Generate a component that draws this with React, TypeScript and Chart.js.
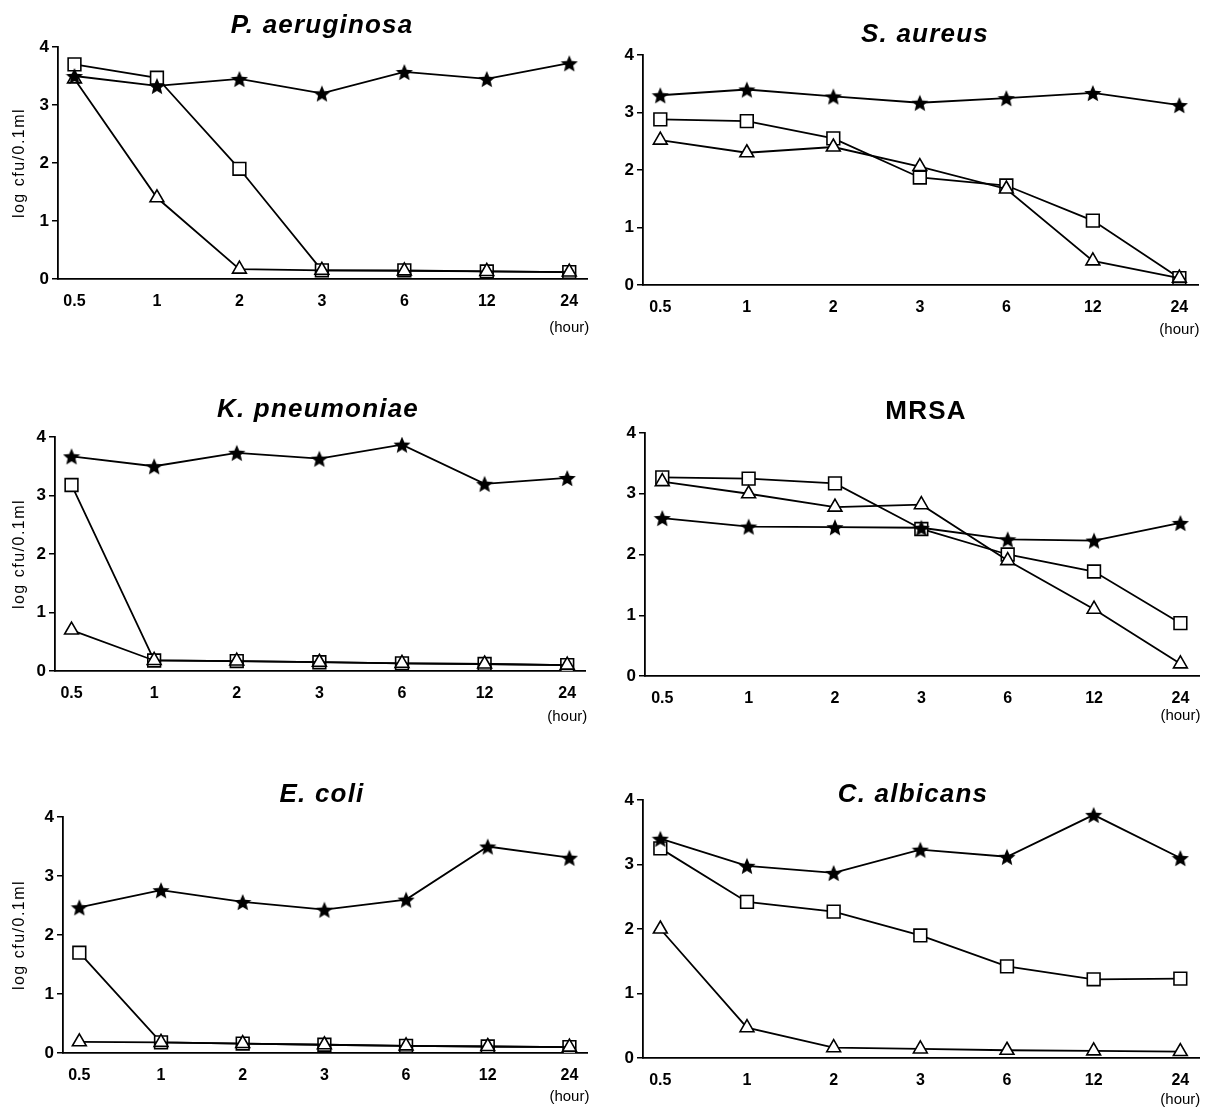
import React, { useEffect, useRef } from "react";
import { Chart, registerables } from "chart.js";
Chart.register(...registerables);

// ---- data ----
const hours = ["0.5", "1", "2", "3", "6", "12", "24"];
const yTicks = [0, 1, 2, 3, 4];

const paerStar = [3.5, 3.33, 3.45, 3.2, 3.57, 3.45, 3.72];
const paerSquare = [3.7, 3.47, 1.9, 0.15, 0.15, 0.13, 0.12];
const paerTri = [3.45, 1.4, 0.17, 0.15, 0.14, 0.13, 0.12];

const saurStar = [3.3, 3.4, 3.28, 3.17, 3.25, 3.34, 3.13];
const saurSquare = [2.88, 2.85, 2.55, 1.87, 1.73, 1.12, 0.12];
const saurTri = [2.52, 2.3, 2.4, 2.06, 1.67, 0.42, 0.12];

const kpneStar = [3.67, 3.5, 3.73, 3.63, 3.87, 3.2, 3.3];
const kpneSquare = [3.18, 0.18, 0.17, 0.15, 0.13, 0.12, 0.1];
const kpneTri = [0.7, 0.18, 0.17, 0.15, 0.13, 0.12, 0.1];

const mrsaStar = [2.6, 2.46, 2.45, 2.44, 2.25, 2.23, 2.52];
const mrsaSquare = [3.27, 3.25, 3.17, 2.42, 2.0, 1.72, 0.87];
const mrsaTri = [3.2, 3.0, 2.78, 2.82, 1.9, 1.1, 0.2];

const ecolStar = [2.47, 2.76, 2.56, 2.43, 2.6, 3.5, 3.31];
const ecolSquare = [1.7, 0.18, 0.16, 0.14, 0.12, 0.11, 0.1];
const ecolTri = [0.19, 0.18, 0.16, 0.14, 0.12, 0.11, 0.1];

const calbStar = [3.4, 2.98, 2.87, 3.23, 3.12, 3.77, 3.1];
const calbSquare = [3.25, 2.42, 2.27, 1.9, 1.42, 1.22, 1.23];
const calbTri = [2.0, 0.47, 0.16, 0.14, 0.12, 0.11, 0.1];

const yTitle = "log cfu/0.1ml";
const xUnit = "(hour)";

// ---- layout (positions/styles) ----
const PAD_TOP = 45;
const X_AXIS_H = 60;
const PAD_RIGHT = 8;
const TICK_FONT = "'Liberation Sans', Arial, sans-serif";

const panels = [
  { title: "P. aeruginosa", italic: true, star: paerStar, square: paerSquare, tri: paerTri, col: 0, area: { l: 58, r: 590, t: 47, b: 279 }, titleX: 322, titleY: 26, hourDy: 49, yTitle: true },
  { title: "S. aureus", italic: true, star: saurStar, square: saurSquare, tri: saurTri, col: 1, area: { l: 643, r: 1201, t: 55, b: 285 }, titleX: 925, titleY: 35, hourDy: 45, yTitle: false },
  { title: "K. pneumoniae", italic: true, star: kpneStar, square: kpneSquare, tri: kpneTri, col: 0, area: { l: 55, r: 588, t: 437, b: 671 }, titleX: 318, titleY: 410, hourDy: 46, yTitle: true },
  { title: "MRSA", italic: false, star: mrsaStar, square: mrsaSquare, tri: mrsaTri, col: 1, area: { l: 645, r: 1202, t: 433, b: 676 }, titleX: 926, titleY: 412, hourDy: 40, yTitle: false },
  { title: "E. coli", italic: true, star: ecolStar, square: ecolSquare, tri: ecolTri, col: 0, area: { l: 63, r: 590, t: 817, b: 1053 }, titleX: 322, titleY: 795, hourDy: 44, yTitle: true },
  { title: "C. albicans", italic: true, star: calbStar, square: calbSquare, tri: calbTri, col: 1, area: { l: 643, r: 1202, t: 800, b: 1058 }, titleX: 913, titleY: 795, hourDy: 42, yTitle: false },
];

function makeStar(size: number) {
  const c = document.createElement("canvas");
  c.width = size;
  c.height = size;
  const g = c.getContext("2d")!;
  const cx = size / 2;
  const cy = size / 2 + 1;
  const R = size / 2;
  const r = R * 0.45;
  g.beginPath();
  for (let i = 0; i < 10; i++) {
    const a = -Math.PI / 2 + (i * Math.PI) / 5;
    const rad = i % 2 ? r : R;
    g.lineTo(cx + rad * Math.cos(a), cy + rad * Math.sin(a));
  }
  g.closePath();
  g.fillStyle = "#000";
  g.fill();
  return c;
}

function Panel({ p }: { p: any }) {
  const ref = useRef<HTMLCanvasElement>(null);
  const boxX = p.col === 0 ? 0 : 605;
  const boxY = p.area.t - PAD_TOP;
  const w = p.area.r + PAD_RIGHT - boxX;
  const h = p.area.b + X_AXIS_H - boxY;

  useEffect(() => {
    const star = makeStar(18);
    const pts = (arr: number[]) => arr.map((v, i) => ({ x: i, y: v }));
    const common = { borderColor: "#000", borderWidth: 1.8, tension: 0, pointBorderColor: "#000", pointBorderWidth: 1.6, pointBackgroundColor: "#fff" };
    const chart = new Chart(ref.current!, {
      type: "line",
      data: {
        datasets: [
          { ...common, data: pts(p.star), pointStyle: star as any, pointRadius: 8, pointBackgroundColor: "#000" },
          { ...common, data: pts(p.tri), pointStyle: "triangle", pointRadius: 8 },
          { ...common, data: pts(p.square), pointStyle: "rect", pointRadius: 9 },
        ],
      },
      options: {
        animation: false,
        responsive: false,
        events: [],
        layout: { padding: { top: PAD_TOP, right: PAD_RIGHT, bottom: 0, left: 0 } },
        plugins: { legend: { display: false }, tooltip: { enabled: false }, title: { display: false } },
        scales: {
          x: {
            type: "linear",
            min: -0.2,
            max: 6.22,
            afterBuildTicks: (s: any) => {
              s.ticks = hours.map((_, i) => ({ value: i }));
            },
            afterFit: (s: any) => {
              s.height = X_AXIS_H;
            },
            grid: { display: false, drawTicks: false },
            border: { display: true, color: "#000", width: 1.8 },
            ticks: {
              autoSkip: false,
              maxRotation: 0,
              padding: 13,
              color: "#000",
              font: { family: TICK_FONT, size: 16, weight: "bold" },
              callback: (v: any) => hours[v as number] ?? "",
            },
          },
          y: {
            min: 0,
            max: 4,
            afterBuildTicks: (s: any) => {
              s.ticks = yTicks.map((v) => ({ value: v }));
            },
            afterFit: (s: any) => {
              s.width = p.area.l - boxX;
            },
            grid: { display: true, drawOnChartArea: false, drawTicks: true, tickLength: 6, color: "#000", lineWidth: 1.5 },
            border: { display: true, color: "#000", width: 1.8 },
            ticks: {
              padding: 3,
              color: "#000",
              font: { family: TICK_FONT, size: 17, weight: "bold" },
            },
          },
        },
      },
      plugins: [
        {
          id: "texts",
          afterDraw(c: any) {
            const ctx = c.ctx;
            const ca = c.chartArea;
            ctx.save();
            ctx.fillStyle = "#000";
            ctx.textAlign = "center";
            ctx.textBaseline = "middle";
            ctx.font = `${p.italic ? "italic " : ""}bold 26px 'Liberation Sans', Arial, sans-serif`;
            (ctx as any).letterSpacing = "1.2px";
            ctx.fillText(p.title, p.titleX - boxX, p.titleY - boxY);
            (ctx as any).letterSpacing = "0px";
            ctx.font = `15px 'Liberation Sans', Arial, sans-serif`;
            ctx.fillText(xUnit, c.scales.x.getPixelForValue(6), ca.bottom + p.hourDy);
            if (p.yTitle) {
              ctx.translate(20, (ca.top + ca.bottom) / 2);
              ctx.rotate(-Math.PI / 2);
              ctx.font = `16px 'Liberation Sans', Arial, sans-serif`;
              (ctx as any).letterSpacing = "1.5px";
              ctx.fillText(yTitle, 0, 0);
            }
            ctx.restore();
          },
        },
      ],
    } as any);
    return () => chart.destroy();
  }, []);

  return (
    <div style={{ position: "absolute", left: boxX, top: boxY, width: w, height: h }}>
      <canvas ref={ref} width={w} height={h} style={{ width: w, height: h, display: "block" }} />
    </div>
  );
}

export default function App() {
  return (
    <div style={{ position: "absolute", left: 0, top: 0, width: 1210, height: 1110, overflow: "hidden", background: "#fff" }}>
      {panels.map((p, i) => (
        <Panel key={i} p={p} />
      ))}
    </div>
  );
}
